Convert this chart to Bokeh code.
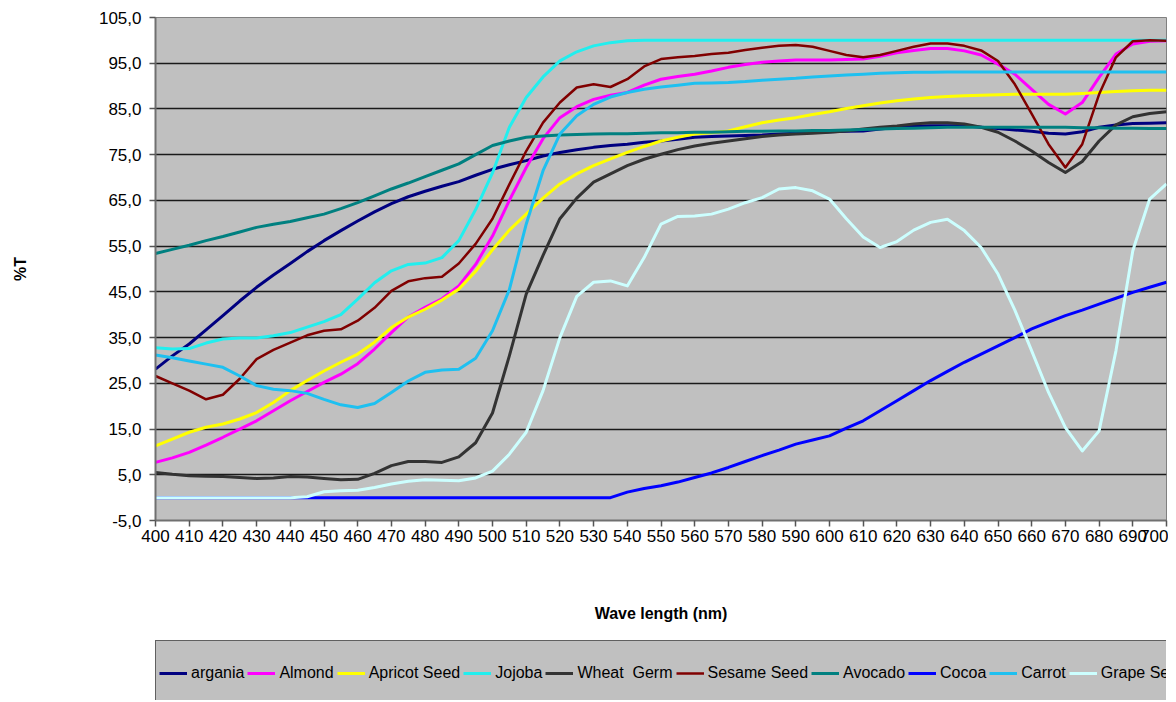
from bokeh.plotting import figure
from bokeh.layouts import column
from bokeh.models import Range1d, FixedTicker, CustomJSTickFormatter, Legend, LegendItem, ColumnDataSource
from bokeh.embed import file_html
from bokeh.resources import INLINE

wavelength = list(range(400, 705, 5))

argania = [28.1, 31.0, 33.6, 36.7, 39.8, 43.0, 46.0, 48.7, 51.2, 53.8,
           56.2, 58.4, 60.5, 62.5, 64.3, 65.8, 67.0, 68.1, 69.1, 70.5,
           71.8, 72.8, 73.7, 74.7, 75.5, 76.1, 76.6, 77.0, 77.3, 77.7,
           78.0, 78.4, 78.8, 79.0, 79.1, 79.2, 79.3, 79.5, 79.7, 79.9,
           80.0, 80.1, 80.2, 80.6, 81.0, 81.2, 81.3, 81.3, 81.3, 81.0,
           80.7, 80.4, 80.1, 79.7, 79.5, 80.0, 81.0, 81.5, 81.8, 81.9, 82.0]

almond = [7.7, 8.7, 9.9, 11.5, 13.2, 15.0, 16.8, 19.0, 21.2, 23.2,
          25.2, 27.0, 29.3, 32.5, 36.1, 39.5, 41.6, 43.5, 46.3, 51.0,
          57.2, 65.0, 72.2, 78.5, 83.1, 85.5, 87.1, 88.0, 88.6, 90.2,
          91.5, 92.1, 92.6, 93.3, 94.1, 94.7, 95.2, 95.5, 95.7, 95.7,
          95.7, 95.8, 95.9, 96.5, 97.3, 97.8, 98.2, 98.2, 97.7, 96.8,
          94.8, 92.6, 89.3, 86.0, 83.9, 86.4, 91.9, 97.0, 99.2, 99.8, 99.9]

apricot_seed = [11.3, 12.8, 14.3, 15.4, 16.1, 17.2, 18.6, 20.8, 23.4, 25.6,
                27.7, 29.6, 31.4, 34.0, 37.2, 39.5, 41.2, 43.2, 45.6, 49.5,
                54.2, 58.5, 62.0, 65.5, 68.6, 70.8, 72.6, 74.1, 75.5, 76.8,
                78.0, 78.8, 79.5, 79.8, 80.2, 81.1, 82.0, 82.6, 83.1, 83.8,
                84.4, 85.1, 85.7, 86.3, 86.8, 87.2, 87.5, 87.7, 87.9, 88.0,
                88.1, 88.2, 88.2, 88.2, 88.2, 88.4, 88.6, 88.8, 89.0, 89.1, 89.1]

jojoba = [32.8, 32.5, 32.6, 33.8, 34.7, 34.9, 34.9, 35.4, 36.1, 37.3,
          38.5, 40.0, 43.4, 47.0, 49.6, 51.0, 51.3, 52.5, 56.2, 63.0,
          71.0, 81.0, 87.5, 92.0, 95.5, 97.5, 98.8, 99.5, 99.9, 100.0,
          100.0, 100.0, 100.0, 100.0, 100.0, 100.0, 100.0, 100.0, 100.0, 100.0,
          100.0, 100.0, 100.0, 100.0, 100.0, 100.0, 100.0, 100.0, 100.0, 100.0,
          100.0, 100.0, 100.0, 100.0, 100.0, 100.0, 100.0, 100.0, 100.0, 100.0, 100.0]

wheat_germ = [5.5, 5.1, 4.8, 4.7, 4.6, 4.4, 4.2, 4.3, 4.6, 4.5,
              4.2, 3.9, 4.0, 5.3, 7.0, 7.9, 7.9, 7.7, 8.9, 12.0,
              18.5, 31.0, 44.5, 53.0, 61.0, 65.5, 69.0, 70.8, 72.6, 74.0,
              75.1, 76.1, 76.9, 77.5, 78.0, 78.5, 79.0, 79.3, 79.5, 79.7,
              79.9, 80.2, 80.6, 81.0, 81.3, 81.7, 82.0, 82.0, 81.7, 81.0,
              79.9, 78.0, 75.8, 73.3, 71.1, 73.5, 78.0, 81.5, 83.3, 84.0, 84.4]

sesame_seed = [26.6, 25.0, 23.4, 21.5, 22.5, 26.0, 30.3, 32.3, 33.9, 35.5,
               36.5, 36.8, 38.7, 41.5, 45.2, 47.3, 48.0, 48.3, 51.2, 55.5,
               61.0, 68.5, 75.8, 82.0, 86.4, 89.7, 90.4, 89.8, 91.5, 94.3,
               95.9, 96.3, 96.6, 97.0, 97.3, 97.9, 98.4, 98.8, 99.0, 98.6,
               97.7, 96.8, 96.3, 96.8, 97.7, 98.6, 99.3, 99.3, 98.8, 97.8,
               95.5, 90.4, 83.9, 77.3, 72.2, 77.3, 88.2, 96.3, 99.8, 100.0, 99.9]

avocado = [53.4, 54.3, 55.2, 56.2, 57.1, 58.1, 59.1, 59.8, 60.4, 61.2,
           62.0, 63.2, 64.5, 66.0, 67.5, 68.8, 70.2, 71.6, 73.0, 75.0,
           77.0, 78.0, 78.8, 79.1, 79.3, 79.4, 79.5, 79.6, 79.6, 79.7,
           79.8, 79.8, 79.9, 79.9, 80.0, 80.1, 80.1, 80.2, 80.2, 80.3,
           80.3, 80.4, 80.5, 80.6, 80.7, 80.8, 80.9, 81.0, 81.0, 81.0,
           81.0, 81.0, 81.0, 81.0, 81.0, 80.9, 80.9, 80.8, 80.8, 80.7, 80.7]

cocoa = [0.0, 0.0, 0.0, 0.0, 0.0, 0.0, 0.0, 0.0, 0.0, 0.0,
         0.0, 0.0, 0.0, 0.0, 0.0, 0.0, 0.0, 0.0, 0.0, 0.0,
         0.0, 0.0, 0.0, 0.0, 0.0, 0.0, 0.0, 0.0, 1.2, 2.0,
         2.6, 3.4, 4.4, 5.4, 6.6, 7.9, 9.2, 10.4, 11.7, 12.6,
         13.5, 15.2, 16.8, 19.0, 21.2, 23.4, 25.6, 27.6, 29.6, 31.4,
         33.2, 35.0, 36.9, 38.4, 39.8, 41.0, 42.3, 43.6, 44.9, 46.0, 47.1]

carrot = [31.2, 30.6, 29.9, 29.2, 28.5, 26.6, 24.5, 23.7, 23.4, 22.8,
          21.5, 20.3, 19.7, 20.6, 23.0, 25.5, 27.4, 27.9, 28.1, 30.5,
          36.5, 45.5, 59.8, 71.5, 79.5, 83.5, 86.0, 87.6, 88.6, 89.3,
          89.8, 90.2, 90.6, 90.7, 90.8, 91.0, 91.3, 91.5, 91.7, 92.0,
          92.2, 92.4, 92.6, 92.8, 92.9, 93.0, 93.0, 93.1, 93.1, 93.1,
          93.1, 93.1, 93.1, 93.1, 93.1, 93.1, 93.1, 93.1, 93.1, 93.1, 93.1]

grape_seed = [0.0, 0.0, 0.0, 0.0, 0.0, 0.0, 0.0, 0.0, 0.0, 0.2,
              1.3, 1.5, 1.6, 2.2, 3.0, 3.6, 3.9, 3.8, 3.7, 4.3,
              5.8, 9.5, 14.3, 23.4, 35.0, 44.0, 47.1, 47.4, 46.3, 52.5,
              59.8, 61.5, 61.6, 62.0, 63.1, 64.5, 65.6, 67.5, 67.8, 67.1,
              65.3, 61.0, 57.0, 54.7, 56.0, 58.5, 60.2, 60.9, 58.4, 54.7,
              48.9, 41.0, 32.1, 23.0, 15.3, 10.2, 14.6, 32.1, 54.0, 65.3, 68.6]

series_names = ["argania", "Almond", "Apricot Seed", "Jojoba", "Wheat  Germ",
                "Sesame Seed", "Avocado", "Cocoa", "Carrot", "Grape Seed"]
series_values = [argania, almond, apricot_seed, jojoba, wheat_germ,
                 sesame_seed, avocado, cocoa, carrot, grape_seed]
series_colors = ["#000080", "#FF00FF", "#FFFF00", "#22EEEE", "#333333",
                 "#800000", "#008080", "#0000FF", "#1EC0F0", "#CCFFFF"]
series_widths = [3, 3, 3, 3, 3, 2.5, 3, 3, 3, 3]

x_ticks = list(range(400, 701, 10))
y_ticks = list(range(-5, 106, 10))

FONT = "Liberation Sans"

# ---------------- main chart ----------------
p = figure(width=1168, height=640,
           x_range=Range1d(400, 700), y_range=Range1d(-5, 105),
           output_backend="svg", toolbar_location=None,
           min_border_left=155, min_border_right=2,
           min_border_top=17, min_border_bottom=120)

p.background_fill_color = "#C0C0C0"
p.border_fill_color = "#FFFFFF"
p.outline_line_color = "#808080"
p.outline_line_width = 1

p.xgrid.grid_line_color = None
p.ygrid.grid_line_color = "#1A1A1A"
p.ygrid.grid_line_width = 1.5

p.xaxis.ticker = FixedTicker(ticks=x_ticks)
p.yaxis.ticker = FixedTicker(ticks=y_ticks)
p.yaxis.formatter = CustomJSTickFormatter(code="return tick.toFixed(1).replace('.', ',');")

for ax in (p.xaxis, p.yaxis):
    ax.minor_tick_line_color = None
    ax.major_tick_in = 0
    ax.major_tick_out = 6
    ax.major_tick_line_color = "#555555"
    ax.major_tick_line_width = 1.5
    ax.axis_line_color = "#707070"
    ax.axis_line_width = 2
    ax.major_label_text_font = FONT
    ax.major_label_text_font_size = "17px"
    ax.major_label_text_color = "#000000"
    ax.axis_label_text_font = FONT
    ax.axis_label_text_font_style = "bold"
    ax.axis_label_text_font_size = "16px"
    ax.axis_label_text_color = "#000000"

p.xaxis.major_label_standoff = 3
p.yaxis.major_label_standoff = 8
p.xaxis.axis_label = "Wave length (nm)"
p.xaxis.axis_label_standoff = 60
p.yaxis.axis_label = "%T"
p.yaxis.axis_label_standoff = 67

for vals, col, lw in zip(series_values, series_colors, series_widths):
    p.line(wavelength, vals, line_color=col, line_width=lw, line_join="round")

# ---------------- legend strip ----------------
leg = figure(width=1168, height=60, x_range=Range1d(0, 1), y_range=Range1d(0, 1),
             output_backend="svg", toolbar_location=None,
             min_border_left=146, min_border_right=0,
             min_border_top=0, min_border_bottom=0)
leg.axis.visible = False
leg.grid.grid_line_color = None
leg.outline_line_color = None
leg.background_fill_color = "#FFFFFF"
leg.border_fill_color = "#FFFFFF"

items = []
for name, col, lw in zip(series_names, series_colors, series_widths):
    src = ColumnDataSource(data=dict(x=[float("nan")], y=[float("nan")]))
    r = leg.line("x", "y", source=src, line_color=col, line_width=lw)
    items.append(LegendItem(label=name, renderers=[r]))

legend = Legend(items=items, orientation="horizontal", nrows=1,
                location="top_left",
                background_fill_color="#C0C0C0", background_fill_alpha=1.0,
                border_line_color="#000000", border_line_width=1,
                label_text_font=FONT, label_text_font_size="16px",
                label_text_color="#000000",
                glyph_width=28, glyph_height=58, label_height=58,
                label_standoff=4, spacing=3, padding=3, margin=0)
leg.add_layout(legend, "center")

open("out.html", "w").write(file_html(column(p, leg, spacing=0), INLINE))
